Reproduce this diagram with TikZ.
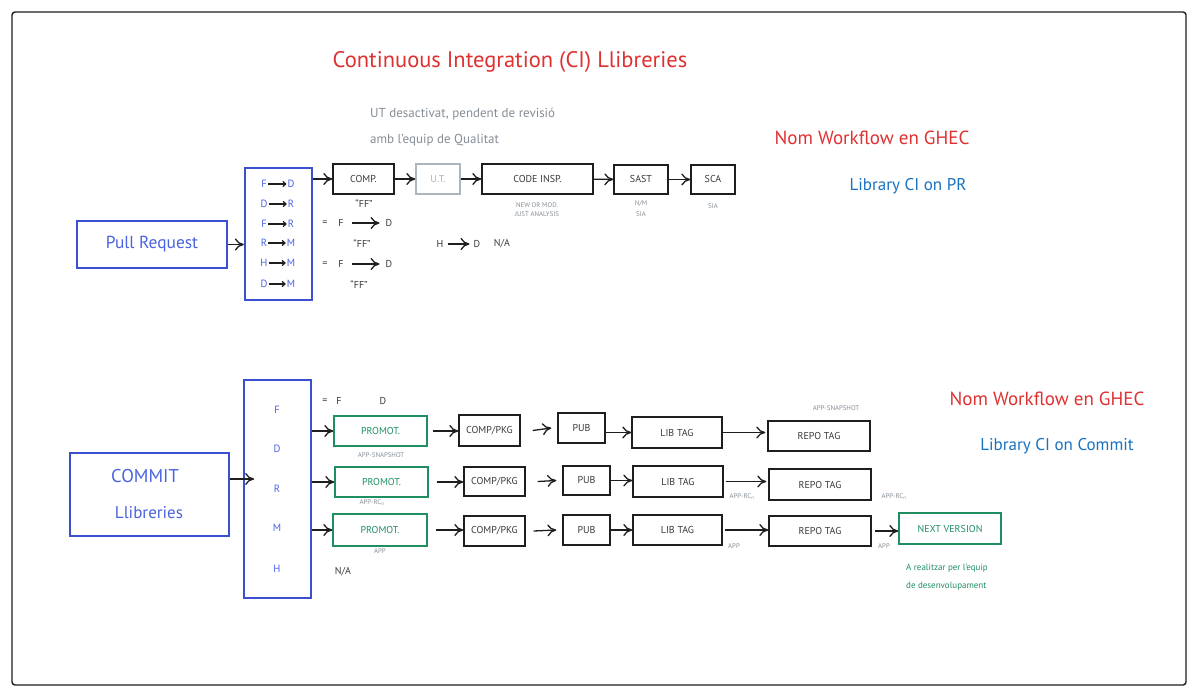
\documentclass[tikz,border=0pt]{standalone}
\usepackage{fontspec}
\setmainfont{PT Sans}
\usetikzlibrary{arrows.meta,calc}
\definecolor{cred}{HTML}{E03131}
\definecolor{cblue}{HTML}{1971C2}
\definecolor{bline}{HTML}{3B50D0}
\definecolor{btext}{HTML}{4A63E0}
\definecolor{cgreen}{HTML}{1F8F62}
\definecolor{ink}{HTML}{1E1E1E}
\definecolor{txt}{HTML}{3A3A3A}
\definecolor{gtxt}{HTML}{868E96}
\definecolor{lgray}{HTML}{ADB5BD}
\begin{document}
\begin{tikzpicture}[x=1pt,y=-1pt,
  wh/.style 2 args={minimum width=#1pt,minimum height=#2pt},
  fs/.style={font=\fontsize{#1}{#1}\selectfont},
  box/.style={draw=ink,line width=1.4pt,inner sep=0pt,text=txt,fs=10},
  gbox/.style={box,draw=cgreen,text=cgreen},
  bbox/.style={draw=bline,line width=2.2pt,inner sep=0pt,text=btext},
  arr/.style={-{Computer Modern Rightarrow[length=9pt,width=12pt,line width=1.3pt]},line width=1.3pt,draw=ink},
  sarr/.style={-{Computer Modern Rightarrow[length=4pt,width=6pt,line width=1.2pt]},line width=1.2pt,draw=ink,shorten <=1pt,shorten >=1pt},
  lbl/.style={inner sep=0pt,text=txt,fs=10},
  blet/.style={inner sep=0pt,text=btext,fs=10.5},
  tiny/.style={inner sep=0pt,text=gtxt,fs=6.8},
  gnote/.style={inner sep=0pt,text=gtxt,fs=13,anchor=west},
  grnote/.style={inner sep=0pt,text=cgreen,fs=9,anchor=west},
]
\useasboundingbox (0,0) rectangle (1198,692);
\fill[white] (0,0) rectangle (1198,692);
\draw[ink,line width=1.4pt,rounded corners=3pt] (12,12) rectangle (1186,685);

% titles and notes
\node[inner sep=0pt,text=cred,fs=22.5] (title) at (510,62) {Continuous Integration (CI) Llibreries};
\node[gnote] (n1) at (370,114) {UT desactivat, pendent de revisió};
\node[gnote] (n2) at (370,140) {amb l'equip de Qualitat};
\node[inner sep=0pt,text=cred,fs=19] (wf1) at (872,138) {Nom Workflow en GHEC};
\node[inner sep=0pt,text=cblue,fs=17] (lib1) at (908,186) {Library CI on PR};
\node[inner sep=0pt,text=cred,fs=19] (wf2) at (1047,399) {Nom Workflow en GHEC};
\node[inner sep=0pt,text=cblue,fs=17] (lib2) at (1057,446) {Library CI on Commit};

% ---------- Pull request ----------
\node[bbox,wh={150}{47},fs=17.4] (pr) at (152,244.5) {Pull Request};
\node[bbox,wh={67}{132}] (prb) at (278.5,234) {};
\draw[arr] (pr.east) -- (pr.east -| prb.west);
\foreach \a/\b/\yy/\i in {F/D/184/1,D/R/204/2,F/R/224/3,R/M/243/4,H/M/263/5,D/M/284/6}{
  \node[blet] (pa\i) at (264,\yy) {\a};
  \node[blet] (pb\i) at (291,\yy) {\b};
  \draw[sarr] (pa\i) -- (pb\i);
}
\node[box,wh={61}{30}] (comp) at (363.5,179) {COMP.};
\node[box,wh={44}{30},draw=lgray,text=lgray] (ut) at (438,179) {U.T.};
\node[box,wh={111}{30}] (ci) at (537.5,179) {CODE INSP.};
\node[box,wh={54}{29}] (sast) at (641,179.5) {SAST};
\node[box,wh={44}{29}] (sca) at (713,179.5) {SCA};
\draw[arr] (prb.east |- comp) -- (comp.west);
\draw[arr] (comp) -- (ut);
\draw[arr] (ut) -- (ci);
\draw[arr] (ci) -- (sast);
\draw[arr] (sast) -- (sca);
\node[tiny] (ci1) at (537,205) {NEW OR MOD.};
\node[tiny] (ci2) at (537,214) {JUST ANALYSIS};
\node[tiny] (sa1) at (641,204) {N/M};
\node[tiny] (sa2) at (641,214) {SIA};
\node[tiny] (sc1) at (713,206) {SIA};

\node[lbl] (ff1) at (364,204) {``FF''};
\node[lbl] (e1) at (325,223) {=};
\node[lbl] (f1) at (341,223) {F};
\node[lbl] (d1) at (389,223) {D};
\draw[arr,shorten <=8pt,shorten >=6pt] (f1) -- (d1);
\node[lbl] (ff2) at (362,244) {``FF''};
\node[lbl] (h1) at (440,244) {H};
\node[lbl] (hd) at (477,244) {D};
\node[lbl] (na1) at (502,244) {N/A};
\draw[arr,shorten <=4pt,shorten >=4pt] (h1) -- (hd);
\node[lbl] (e2) at (325,264) {=};
\node[lbl] (f2) at (341,264) {F};
\node[lbl] (d2) at (389,264) {D};
\draw[arr,shorten <=8pt,shorten >=6pt] (f2) -- (d2);
\node[lbl] (ff3) at (359,285) {``FF''};

% ---------- Commit ----------
\node[bbox,wh={159}{83}] (cm) at (149.5,494.5) {};
\node[inner sep=0pt,text=btext,fs=18.5] (cmt) at (145,476) {COMMIT};
\node[inner sep=0pt,text=btext,fs=17] (cml) at (149,513) {Llibreries};
\node[bbox,wh={67}{218}] (cmb) at (277.5,489) {};
\foreach \l/\yy in {F/410,D/449,R/489,M/528,H/569}{
  \node[blet] (cb\l) at (277,\yy) {\l};
}
\draw[arr] ([yshift=15.5pt]cm.east) -- ++(24,0);

\node[lbl] (e3) at (325,401) {=};
\node[lbl] (f3) at (339,401) {F};
\node[lbl] (d3) at (383,401) {D};

% row 1
\node[gbox,wh={93}{30}] (p1) at (380.5,431) {PROMOT.};
\node[box,wh={61}{31}] (c1) at (489.5,430.5) {COMP/PKG};
\node[box,wh={47}{30}] (u1) at (581.5,428) {PUB};
\node[box,wh={90}{31}] (l1) at (677,432.5) {LIB TAG};
\node[box,wh={102}{30}] (r1) at (819,436) {REPO TAG};
\draw[arr] (cmb.east |- p1) -- (p1.west);
\draw[arr] ([xshift=5pt]p1.east) -- (p1.east -| c1.west);
\draw[arr] ([xshift=12pt]c1.east) -- ([xshift=-6pt]u1.west);
\draw[arr] (u1.east |- l1) -- (l1.west);
\draw[arr] (l1.east) -- ([xshift=-2pt]r1.west |- l1);
\node[tiny] (t1) at (381,455) {APP-SNAPSHOT};
\node[tiny] (t2) at (836,408) {APP-SNAPSHOT};

% row 2
\node[gbox,wh={93}{30}] (p2) at (381.5,482) {PROMOT.};
\node[box,wh={61}{29}] (c2) at (494.5,481.5) {COMP/PKG};
\node[box,wh={47}{29}] (u2) at (586.5,480.5) {PUB};
\node[box,wh={90}{31}] (l2) at (678,481.5) {LIB TAG};
\node[box,wh={102}{31}] (r2) at (820,484.5) {REPO TAG};
\draw[arr] (cmb.east |- p2) -- (p2.west);
\draw[arr] ([xshift=8pt]p2.east) -- (p2.east -| c2.west);
\draw[arr] ([xshift=12pt]c2.east) -- ([xshift=-6pt]u2.west);
\draw[arr] (u2.east) -- (u2.east -| l2.west);
\draw[arr] ([xshift=2pt]l2.east) -- ([xshift=-2pt]l2.east -| r2.west);
\node[tiny] (t3) at (372,503) {APP-RC\textsubscript{n}};
\node[tiny] (t4) at (742,497) {APP-RC\textsubscript{n}};
\node[tiny] (t5) at (894,497) {APP-RC\textsubscript{n}};

% row 3
\node[gbox,wh={94}{32}] (p3) at (380,530) {PROMOT.};
\node[box,wh={61}{30}] (c3) at (494.5,531) {COMP/PKG};
\node[box,wh={47}{30}] (u3) at (586.5,530) {PUB};
\node[box,wh={89}{30}] (l3) at (677.5,530) {LIB TAG};
\node[box,wh={102}{30}] (r3) at (820,531) {REPO TAG};
\node[gbox,wh={102}{31}] (nv) at (950,528.5) {NEXT VERSION};
\draw[arr] (cmb.east |- p3) -- (p3.west);
\draw[arr] ([xshift=8pt]p3.east) -- (p3.east -| c3.west);
\draw[arr] ([xshift=8pt]c3.east) -- ([xshift=-6pt]u3.west);
\draw[arr] (u3.east) -- (u3.east -| l3.west);
\draw[arr] ([xshift=2pt]l3.east) -- (l3.east -| r3.west);
\draw[arr] ([xshift=3pt]r3.east) -- (r3.east -| nv.west);
\node[tiny] (t6) at (380,551) {APP};
\node[tiny] (t7) at (734,546) {APP};
\node[tiny] (t8) at (884,546) {APP};

\node[lbl] (na2) at (343,572) {N/A};
\node[grnote] (g1) at (906,568) {A realitzar per l'equip};
\node[grnote] (g2) at (906,586) {de desenvolupament};
\end{tikzpicture}
\end{document}
